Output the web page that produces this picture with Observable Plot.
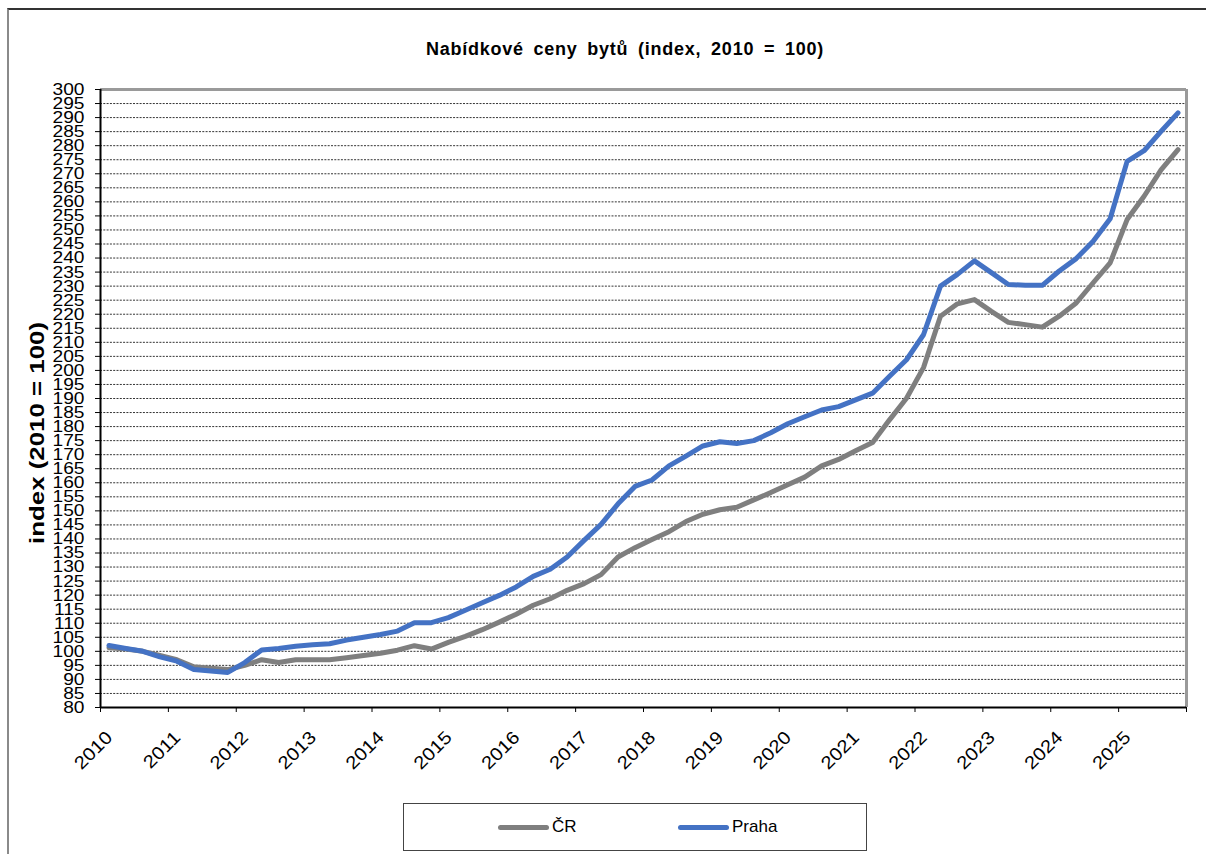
<!DOCTYPE html>
<html>
<head>
<meta charset="utf-8">
<script src="https://cdn.jsdelivr.net/npm/d3@7"></script>
<script src="https://cdn.jsdelivr.net/npm/@observablehq/plot@0.6"></script>
<style>
  html, body { margin: 0; padding: 0; background: #fff; }
  #wrap { position: relative; width: 1206px; height: 854px; overflow: hidden; font-family: "Liberation Sans", Arial, sans-serif; }
  #outer { position: absolute; left: 7px; top: 8px; width: 1220px; height: 870px; border-left: 2px solid #8a8a8a; border-top: 2px solid #333; box-sizing: border-box; }
  #title { position: absolute; left: 0; width: 1250px; top: 39px; text-align: center; font-weight: bold; font-size: 18px; letter-spacing: 0.75px; word-spacing: 4px; color: #000; }
  #chart { position: absolute; left: 0; top: 0; }
  #legend { position: absolute; left: 403px; top: 803px; width: 464px; height: 48px; border: 1px solid #444; box-sizing: border-box; background: #fff; font-size: 17px; color: #000; }
  .item { position: absolute; top: 13px; display: flex; align-items: center; }
  .sw { display: inline-block; width: 51px; height: 5px; border-radius: 3px; margin-right: 3px; }
</style>
</head>
<body>
<div id="wrap">
  <div id="outer"></div>
  <div id="chart"></div>
  <div id="title">Nabídkové ceny bytů (index, 2010 = 100)</div>
  <div id="legend"></div>
</div>
<script>
// Years and quarters (quarterly observations)
const years = [2010, 2011, 2012, 2013, 2014, 2015, 2016, 2017, 2018, 2019, 2020, 2021, 2022, 2023, 2024, 2025];
const quarters = [1, 2, 3, 4];
const seriesNames = ["ČR", "Praha"];
const seriesColors = ["#7f7f7f", "#4472c4"];

// ČR index (2010 = 100), quarterly 2010Q1 .. 2025Q4
const crValues = [
  101.3, 100.8, 100.0, 98.5,
  97.0, 94.5, 94.0, 93.5,
  95.0, 97.0, 96.0, 97.0,
  97.0, 97.0, 97.7, 98.5,
  99.3, 100.4, 102.0, 100.8,
  103.2, 105.3, 107.7, 110.4,
  113.2, 116.4, 118.7, 121.7,
  124.1, 127.3, 133.6, 136.9,
  139.8, 142.6, 146.2, 148.8,
  150.4, 151.3, 153.9, 156.5,
  159.3, 162.0, 166.0, 168.3,
  171.4, 174.3, 182.4, 190.1,
  201.0, 219.3, 223.7, 225.2,
  221.0, 217.1, 216.3, 215.4,
  219.3, 224.0, 231.2, 238.3,
  253.7, 262.0, 271.4, 278.6
];

// Praha index (2010 = 100), quarterly 2010Q1 .. 2025Q4
const prahaValues = [
  102.1, 101.0, 100.0, 98.0,
  96.5, 93.5, 93.0, 92.5,
  96.0, 100.5, 101.0, 101.8,
  102.3, 102.7, 104.0, 105.0,
  106.0, 107.2, 110.2, 110.2,
  112.0, 114.6, 117.3, 119.9,
  122.9, 126.7, 129.2, 133.6,
  139.5, 145.2, 152.5, 158.7,
  161.0, 166.0, 169.5, 173.1,
  174.6, 174.0, 175.0, 177.8,
  181.0, 183.5, 185.9, 187.1,
  189.5, 191.9, 197.9, 203.8,
  212.7, 230.0, 234.2, 239.0,
  234.8, 230.6, 230.3, 230.3,
  235.4, 239.8, 246.0, 254.0,
  274.4, 278.2, 285.1, 291.7
];

const yTicks = d3.range(80, 301, 5);
const gridTicks = yTicks.filter(v => v > 80 && v < 300);

// build table
const periods = years.flatMap(y => quarters.map(q => ({year: y, q, t: y + (q - 0.5) / 4})));
const rows = [];
seriesNames.forEach((name, s) => {
  const vals = s === 0 ? crValues : prahaValues;
  periods.forEach((p, i) => rows.push({series: name, t: p.t, value: vals[i]}));
});

const W = 1206, H = 780;
const chart = Plot.plot({
  width: W,
  height: H,
  marginLeft: 100,
  marginRight: 20,
  marginTop: 89,
  marginBottom: 73,
  style: {fontFamily: "'Liberation Sans', Arial, sans-serif", fontSize: "17px", color: "#000", background: "transparent", overflow: "visible"},
  x: {domain: [2010, 2026]},
  y: {domain: [80, 300]},
  color: {domain: seriesNames, range: seriesColors},
  marks: [
    Plot.gridY(gridTicks, {stroke: "#000", strokeOpacity: 0.8, strokeDasharray: "2,1.3", strokeWidth: 1}),
    Plot.ruleY([300], {stroke: "#9a9a9a", strokeWidth: 3}),
    Plot.ruleX([2026], {stroke: "#9a9a9a", strokeWidth: 3}),
    Plot.axisY({ticks: yTicks, tickSize: 5, tickPadding: 11, label: null, tickFormat: d => String(d)}),
    Plot.axisX({ticks: years.concat([2026]), tickSize: 5, tickFormat: () => "", label: null}),
    Plot.axisX({ticks: years, tickSize: 0, tickPadding: 27, dx: 9, tickRotate: -45, label: null, fontSize: 18, tickFormat: d => String(d)}),
    Plot.ruleX([2010], {stroke: "#000", strokeWidth: 2}),
    Plot.ruleY([80], {stroke: "#000", strokeWidth: 2}),
    Plot.line(rows.filter(r => r.series === "ČR"), {x: "t", y: "value", stroke: "series", strokeWidth: 5, strokeLinejoin: "round", strokeLinecap: "round"}),
    Plot.line(rows.filter(r => r.series === "Praha"), {x: "t", y: "value", stroke: "series", strokeWidth: 5, strokeLinejoin: "round", strokeLinecap: "round"})
  ]
});

// widen tick labels slightly, like the reference rendering
d3.select(chart).selectAll('g[aria-label="y-axis tick label"] text, g[aria-label="x-axis tick label"] text')
  .attr("transform", function() { return (this.getAttribute("transform") || "") + " scale(1.13,1)"; });

d3.select(chart).append("text")
  .attr("transform", "translate(44,433) rotate(-90)")
  .attr("text-anchor", "middle")
  .attr("font-weight", "bold")
  .attr("font-size", 20)
  .attr("fill", "#000")
  .attr("textLength", 222)
  .attr("lengthAdjust", "spacingAndGlyphs")
  .text("index (2010 = 100)");

document.getElementById("chart").appendChild(chart);

// legend
const legend = document.getElementById("legend");
const legendX = [94, 274];
seriesNames.forEach((name, i) => {
  const item = document.createElement("div");
  item.className = "item";
  item.style.left = legendX[i] + "px";
  const sw = document.createElement("span");
  sw.className = "sw";
  sw.style.background = seriesColors[i];
  const lab = document.createElement("span");
  lab.textContent = name;
  item.appendChild(sw);
  item.appendChild(lab);
  legend.appendChild(item);
});
</script>
</body>
</html>
